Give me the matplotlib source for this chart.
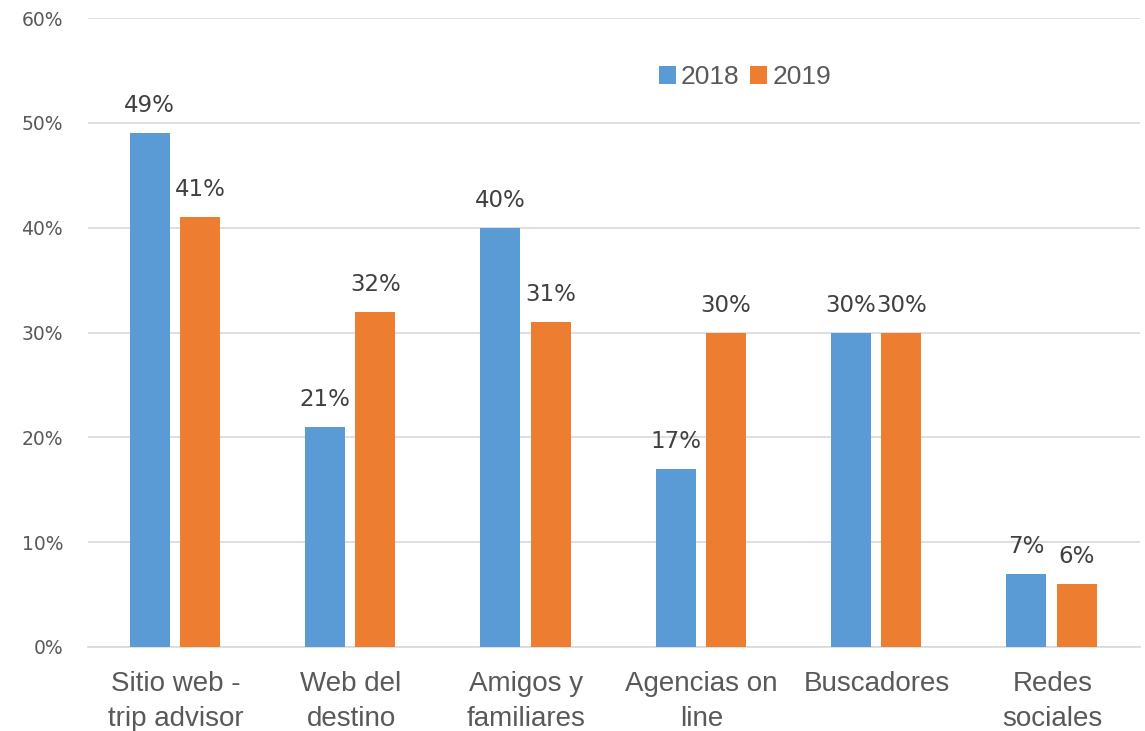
import numpy as np
import matplotlib
matplotlib.use('Agg')
from matplotlib import pyplot as plt
from matplotlib.ticker import PercentFormatter

categories = ['Sitio web -\ntrip advisor', 'Web del\ndestino', 'Amigos y\nfamiliares',
              'Agencias on\nline', 'Buscadores', 'Redes\nsociales']
vals_2018 = [49, 21, 40, 17, 30, 7]
vals_2019 = [41, 32, 31, 30, 30, 6]
series = ['2018', '2019']

blue = '#5B9BD5'
orange = '#ED7D31'
grey = '#595959'

fig = plt.figure(figsize=(11.45, 7.31), dpi=100)
ax = fig.add_axes([88 / 1145, 1 - 647 / 731, 1052 / 1145, (647 - 18) / 731])

x = np.arange(len(categories))
w = 0.228
off = 0.143
b1 = ax.bar(x - off - 0.005, vals_2018, w, color=blue, label=series[0], zorder=3)
b2 = ax.bar(x + off - 0.005, vals_2019, w, color=orange, label=series[1], zorder=3)

for bars, vals in [(b1, vals_2018), (b2, vals_2019)]:
    for rect, v in zip(bars, vals):
        ax.annotate(f'{v}%', (rect.get_x() + rect.get_width() / 2, v),
                    xytext=(0, 11.5), textcoords='offset points',
                    ha='center', va='bottom', fontsize=16.5, color='#404040',
                    family='DejaVu Sans')

ax.set_xlim(-0.5, len(categories) - 0.5)
ax.set_ylim(0, 60)
ax.set_yticks(range(0, 61, 10))
ax.yaxis.set_major_formatter(PercentFormatter(decimals=0))
ax.grid(axis='y', color='#D9D9D9', linewidth=1.2, zorder=0)
for s in ['top', 'right', 'left']:
    ax.spines[s].set_visible(False)
ax.spines['bottom'].set_color('#D9D9D9')
ax.spines['bottom'].set_linewidth(1.2)
ax.tick_params(axis='both', length=0)
ax.tick_params(axis='y', labelsize=13.5, labelcolor=grey, pad=18)
ax.set_xticks(x)
ax.set_xticklabels(categories, fontsize=20, color=grey, family='Liberation Sans',
                   linespacing=1.45)
ax.tick_params(axis='x', pad=17)

leg = ax.legend(loc='center', bbox_to_anchor=(745 / 1145, 1 - 77 / 731),
                bbox_transform=fig.transFigure, ncol=2, frameon=False,
                prop={'family': 'Liberation Sans', 'size': 19},
                handlelength=0.65, handleheight=0.65, handletextpad=0.2,
                columnspacing=0.4)
for t in leg.get_texts():
    t.set_color(grey)

fig.savefig('out.png', dpi=100)
